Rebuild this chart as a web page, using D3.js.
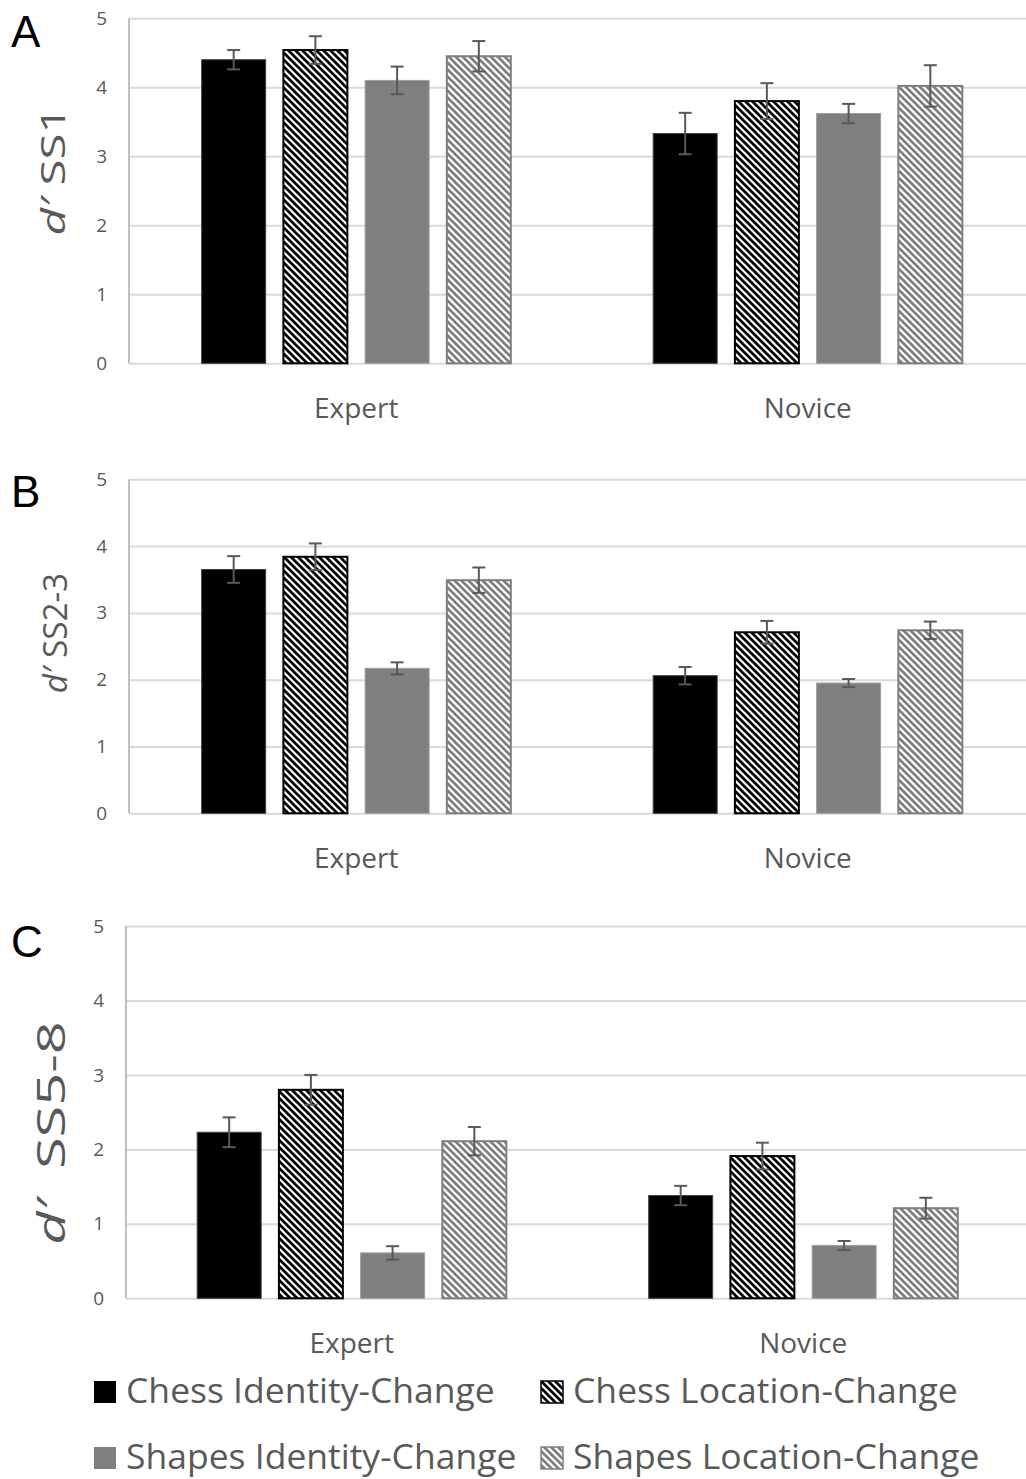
<!DOCTYPE html>
<html>
<head>
<meta charset="utf-8">
<script src="https://cdn.jsdelivr.net/npm/d3@7"></script>
<style>
  body { margin: 0; background: #fff; }
  svg { display: block; font-family: "Open Sans", sans-serif; }
</style>
</head>
<body>
<svg width="1026" height="1479"></svg>
<script>
const groups = ["Expert", "Novice"];
const series = ["Chess Identity-Change", "Chess Location-Change", "Shapes Identity-Change", "Shapes Location-Change"];
const yTicks = [0, 1, 2, 3, 4, 5];

// mean d' and error per group (rows) and series (columns)
const ss1Means = [[4.40, 4.54, 4.10, 4.45], [3.33, 3.80, 3.62, 4.02]];
const ss1Errors = [[0.14, 0.20, 0.20, 0.22], [0.30, 0.26, 0.14, 0.30]];
const ss23Means = [[3.65, 3.84, 2.17, 3.49], [2.06, 2.71, 1.95, 2.74]];
const ss23Errors = [[0.20, 0.20, 0.09, 0.19], [0.13, 0.17, 0.06, 0.13]];
const ss58Means = [[2.23, 2.80, 0.61, 2.11], [1.38, 1.91, 0.71, 1.21]];
const ss58Errors = [[0.20, 0.20, 0.09, 0.19], [0.13, 0.18, 0.06, 0.14]];

const svg = d3.select("svg");

// hatch patterns
const defs = svg.append("defs");
function hatch(id, color) {
  const p = defs.append("pattern")
    .attr("id", id)
    .attr("patternUnits", "userSpaceOnUse")
    .attr("width", 7).attr("height", 7);
  p.append("rect").attr("width", 7).attr("height", 7).attr("fill", "#fff");
  p.append("path")
    .attr("d", "M-1,-1L8,8M6,-1L8,1M-1,6L1,8")
    .attr("stroke", color).attr("stroke-width", 2.7);
}
hatch("hatchDark", "#000");
hatch("hatchLight", "#7f7f7f");

const fills = ["#000", "url(#hatchDark)", "#7f7f7f", "url(#hatchLight)"];
const strokes = ["#404040", "#000", "#a0a0a0", "#7f7f7f"];
const strokeW = [1, 2, 1, 2];

const panels = [
  {letter: "A", title: " SS1", means: ss1Means, errors: ss1Errors,
   top: 18.3, bottom: 363.3, left: 130.5, axisX: 129, titleSize: 32, stretch: 1.48,
   titleX: 65, titleY: 171, letterY: 47, catY: 418},
  {letter: "B", title: " SS2-3", means: ss23Means, errors: ss23Errors,
   top: 479.3, bottom: 813.3, left: 130.5, axisX: 129, titleSize: 32, stretch: 1.04,
   titleX: 67, titleY: 633, letterY: 507, catY: 868},
  {letter: "C", title: "\u00a0 SS5-8", means: ss58Means, errors: ss58Errors,
   top: 926, bottom: 1298.3, left: 126, axisX: 126, titleSize: 39, stretch: 1.48,
   titleX: 65, titleY: 1133, letterY: 957, catY: 1353}
];

function render(pn) {
  const y = d3.scaleLinear().domain([0, 5]).range([pn.bottom, pn.top]);
  const x0 = d3.scaleBand().domain(groups)
    .range([pn.left, pn.left + 903])
    .paddingInner(0.276).paddingOuter(0.138);
  const x1 = d3.scaleBand().domain(series)
    .range([0, x0.bandwidth()])
    .paddingInner(0.217).paddingOuter(0.1085);

  const g = svg.append("g");

  // gridlines
  const yAxis = d3.axisLeft(y).tickValues(yTicks).tickFormat(d3.format("d"))
    .tickSize(-(1026 - pn.axisX)).tickPadding(22);
  const ax = g.append("g").attr("transform", `translate(${pn.axisX},0)`).call(yAxis);
  ax.select(".domain").remove();
  ax.selectAll(".tick line").attr("stroke", "#d9d9d9").attr("stroke-width", 2);
  ax.selectAll(".tick text").attr("fill", "#595959").attr("font-size", 19)
    .attr("font-family", "Open Sans, sans-serif");

  g.append("line")
    .attr("x1", pn.axisX).attr("x2", pn.axisX)
    .attr("y1", y(5)).attr("y2", y(0))
    .attr("stroke", "#bfbfbf").attr("stroke-width", 2);

  // bars
  groups.forEach((grp, gi) => {
    series.forEach((s, si) => {
      const v = pn.means[gi][si];
      const e = pn.errors[gi][si];
      const bx = x0(grp) + x1(s);
      const w = x1.bandwidth();
      g.append("rect")
        .attr("x", bx).attr("y", y(v))
        .attr("width", w).attr("height", y(0) - y(v))
        .attr("fill", fills[si])
        .attr("stroke", strokes[si]).attr("stroke-width", strokeW[si]);
      const cx = bx + w / 2;
      const eb = g.append("g").attr("stroke", "#595959").attr("stroke-width", 2);
      eb.append("line").attr("x1", cx).attr("x2", cx).attr("y1", y(v + e)).attr("y2", y(v - e));
      eb.append("line").attr("x1", cx - 6.5).attr("x2", cx + 6.5).attr("y1", y(v + e)).attr("y2", y(v + e));
      eb.append("line").attr("x1", cx - 6.5).attr("x2", cx + 6.5).attr("y1", y(v - e)).attr("y2", y(v - e));
    });
    g.append("text")
      .attr("x", x0(grp) + x0.bandwidth() / 2).attr("y", pn.catY)
      .attr("text-anchor", "middle").attr("fill", "#595959").attr("font-size", 28)
      .text(grp);
  });

  // y title
  const t = g.append("text")
    .attr("transform", `translate(${pn.titleX},${pn.titleY}) rotate(-90) scale(${pn.stretch},1)`)
    .attr("text-anchor", "middle").attr("fill", "#595959").attr("font-size", pn.titleSize);
  t.append("tspan").attr("font-style", "italic").text("d\u2032");
  t.append("tspan").text(pn.title);

  // panel letter
  g.append("text")
    .attr("x", 11).attr("y", pn.letterY)
    .attr("font-family", "Liberation Sans, Arial, sans-serif").attr("font-size", 44)
    .attr("fill", "#000").text(pn.letter);
}

panels.forEach(render);

// legend
const legendPos = [[94, 1403], [541, 1403], [94, 1469], [541, 1469]];
const lg = svg.append("g");
series.forEach((s, i) => {
  const [lx, ly] = legendPos[i];
  lg.append("rect")
    .attr("x", lx).attr("y", ly - 22)
    .attr("width", 22).attr("height", 22)
    .attr("fill", fills[i]).attr("stroke", strokes[i]).attr("stroke-width", i % 2 ? 1.5 : 0);
  lg.append("text")
    .attr("x", lx + 32).attr("y", ly)
    .attr("fill", "#595959").attr("font-size", 35.5)
    .text(s);
});
</script>
</body>
</html>
